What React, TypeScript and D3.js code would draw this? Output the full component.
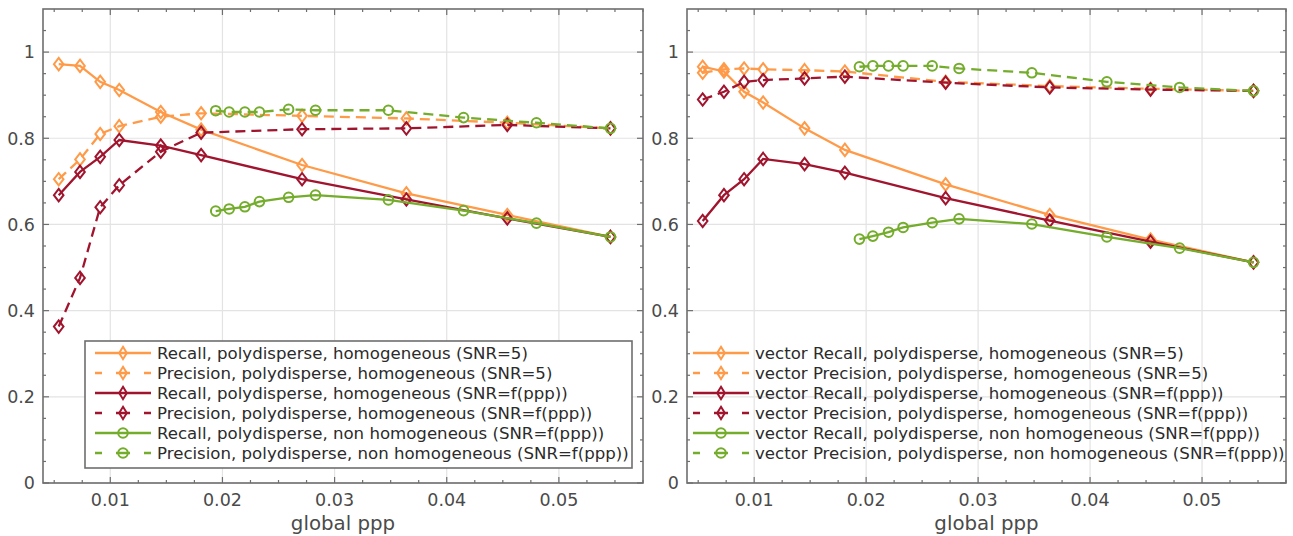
import React from "react";
import * as d3 from "d3";

// ---------- data ----------
const xHom = [0.0054, 0.0073, 0.0091, 0.0108, 0.0145, 0.0181, 0.0271, 0.0364, 0.0454, 0.0546];
const xNonHom = [0.0194, 0.0206, 0.022, 0.0233, 0.0259, 0.0283, 0.0348, 0.0415, 0.048, 0.0546];

// left panel
const recallSnr5L = [0.972, 0.968, 0.931, 0.912, 0.861, 0.82, 0.738, 0.672, 0.622, 0.571];
const precSnr5L = [0.705, 0.751, 0.81, 0.828, 0.85, 0.858, 0.852, 0.846, 0.836, 0.823];
const recallSnrFL = [0.668, 0.722, 0.757, 0.796, 0.783, 0.761, 0.705, 0.658, 0.614, 0.571];
const precSnrFL = [0.363, 0.476, 0.64, 0.691, 0.769, 0.813, 0.821, 0.823, 0.831, 0.823];
const recallNonHomL = [0.631, 0.636, 0.641, 0.653, 0.663, 0.668, 0.657, 0.632, 0.603, 0.571];
const precNonHomL = [0.864, 0.861, 0.861, 0.861, 0.867, 0.865, 0.865, 0.848, 0.836, 0.823];

// right panel
const recallSnr5R = [0.966, 0.955, 0.908, 0.883, 0.823, 0.773, 0.693, 0.622, 0.565, 0.512];
const precSnr5R = [0.952, 0.96, 0.962, 0.96, 0.958, 0.955, 0.931, 0.921, 0.915, 0.91];
const recallSnrFR = [0.608, 0.668, 0.705, 0.752, 0.74, 0.72, 0.661, 0.609, 0.56, 0.512];
const precSnrFR = [0.89, 0.908, 0.931, 0.935, 0.939, 0.943, 0.929, 0.918, 0.913, 0.91];
const recallNonHomR = [0.566, 0.573, 0.582, 0.593, 0.604, 0.613, 0.601, 0.571, 0.545, 0.512];
const precNonHomR = [0.966, 0.968, 0.968, 0.968, 0.968, 0.962, 0.952, 0.931, 0.918, 0.91];

const labelsLeft = [
  "Recall, polydisperse, homogeneous (SNR=5)",
  "Precision, polydisperse, homogeneous (SNR=5)",
  "Recall, polydisperse, homogeneous (SNR=f(ppp))",
  "Precision, polydisperse, homogeneous (SNR=f(ppp))",
  "Recall, polydisperse, non homogeneous (SNR=f(ppp))",
  "Precision, polydisperse, non homogeneous (SNR=f(ppp))",
];
const labelsRight = labelsLeft.map((l) => "vector " + l);

const xTicks = [0.01, 0.02, 0.03, 0.04, 0.05];
const xTickLabels = ["0.01", "0.02", "0.03", "0.04", "0.05"];
const yTicks = [0, 0.2, 0.4, 0.6, 0.8, 1];
const yTickLabels = ["0", "0.2", "0.4", "0.6", "0.8", "1"];
const xLabel = "global ppp";

// ---------- styling ----------
const ORANGE = "#FF9A48";
const RED = "#A0142E";
const GREEN = "#74AC2C";
const FONT = "DejaVu Sans";

type Series = { x: number[]; y: number[]; color: string; dashed: boolean; marker: "d" | "o" };

function makeSeries(r5: number[], p5: number[], rf: number[], pf: number[], rn: number[], pn: number[]): Series[] {
  return [
    { x: xHom, y: r5, color: ORANGE, dashed: false, marker: "d" },
    { x: xHom, y: p5, color: ORANGE, dashed: true, marker: "d" },
    { x: xHom, y: rf, color: RED, dashed: false, marker: "d" },
    { x: xHom, y: pf, color: RED, dashed: true, marker: "d" },
    { x: xNonHom, y: rn, color: GREEN, dashed: false, marker: "o" },
    { x: xNonHom, y: pn, color: GREEN, dashed: true, marker: "o" },
  ];
}

function Marker({ cx, cy, type, color, legend }: { cx: number; cy: number; type: "d" | "o"; color: string; legend?: boolean }) {
  if (type === "o") {
    return <circle cx={cx} cy={cy} r={4.8} fill="none" stroke={color} strokeWidth={2} />;
  }
  const w = legend ? 3.8 : 4.8;
  const h = 6.2;
  return (
    <path
      d={`M${cx},${cy - h}L${cx + w},${cy}L${cx},${cy + h}L${cx - w},${cy}Z`}
      fill="none"
      stroke={color}
      strokeWidth={2}
    />
  );
}

function Panel({ left, right, series, labels, boxedLegend, legendX }: {
  left: number; right: number; series: Series[]; labels: string[]; boxedLegend: boolean; legendX: number;
}) {
  const top = 9;
  const bottom = 483;
  const x = d3.scaleLinear().domain([0.004, 0.0575]).range([left, right]);
  const y = d3.scaleLinear().domain([0, 1.1]).range([bottom, top]);
  const line = d3.line<[number, number]>().x((d) => x(d[0])).y((d) => y(d[1]));
  const xMinor = d3.range(0.005, 0.0576, 0.0025).filter((v) => !xTicks.some((t) => Math.abs(t - v) < 1e-6));
  const yMinor = d3.range(0.05, 1.1, 0.05).filter((v) => !yTicks.some((t) => Math.abs(t - v) < 1e-6));
  const axisColor = "#6e6e6e";
  const rowY = (i: number) => 353 + i * 20;
  return (
    <g>
      {/* grid */}
      {xTicks.map((t) => (
        <line key={"gx" + t} x1={x(t)} x2={x(t)} y1={top} y2={bottom} stroke="#e3e3e3" strokeWidth={1.2} />
      ))}
      {yTicks.map((t) => (
        <line key={"gy" + t} x1={left} x2={right} y1={y(t)} y2={y(t)} stroke="#e3e3e3" strokeWidth={1.2} />
      ))}
      {/* series */}
      {series.map((s, i) => (
        <g key={"s" + i}>
          <path
            d={line(s.x.map((v, j) => [v, s.y[j]] as [number, number])) || ""}
            fill="none"
            stroke={s.color}
            strokeWidth={2.3}
            strokeDasharray={s.dashed ? "10,6" : undefined}
          />
          {s.x.map((v, j) => (
            <Marker key={j} cx={x(v)} cy={y(s.y[j])} type={s.marker} color={s.color} />
          ))}
        </g>
      ))}
      {/* ticks */}
      {xTicks.map((t) => (
        <g key={"tx" + t}>
          <line x1={x(t)} x2={x(t)} y1={bottom} y2={bottom - 6} stroke={axisColor} strokeWidth={1.2} />
          <line x1={x(t)} x2={x(t)} y1={top} y2={top + 6} stroke={axisColor} strokeWidth={1.2} />
        </g>
      ))}
      {xMinor.map((t) => (
        <g key={"mx" + t}>
          <line x1={x(t)} x2={x(t)} y1={bottom} y2={bottom - 3} stroke={axisColor} strokeWidth={1.2} />
          <line x1={x(t)} x2={x(t)} y1={top} y2={top + 3} stroke={axisColor} strokeWidth={1.2} />
        </g>
      ))}
      {yTicks.map((t) => (
        <g key={"ty" + t}>
          <line x1={left} x2={left + 6} y1={y(t)} y2={y(t)} stroke={axisColor} strokeWidth={1.2} />
          <line x1={right} x2={right - 6} y1={y(t)} y2={y(t)} stroke={axisColor} strokeWidth={1.2} />
        </g>
      ))}
      {yMinor.map((t) => (
        <g key={"my" + t}>
          <line x1={left} x2={left + 3} y1={y(t)} y2={y(t)} stroke={axisColor} strokeWidth={1.2} />
          <line x1={right} x2={right - 3} y1={y(t)} y2={y(t)} stroke={axisColor} strokeWidth={1.2} />
        </g>
      ))}
      {/* frame */}
      <rect x={left} y={top} width={right - left} height={bottom - top} fill="none" stroke={axisColor} strokeWidth={1.6} />
      {/* tick labels */}
      {xTicks.map((t, i) => (
        <text key={"lx" + t} x={x(t)} y={506} textAnchor="middle" fontFamily={FONT} fontSize={17.5} fill="#4a4a4a">
          {xTickLabels[i]}
        </text>
      ))}
      {yTicks.map((t, i) => (
        <text key={"ly" + t} x={left - 8} y={y(t)} dy="0.36em" textAnchor="end" fontFamily={FONT} fontSize={17.5} fill="#4a4a4a">
          {yTickLabels[i]}
        </text>
      ))}
      <text x={(left + right) / 2} y={530} textAnchor="middle" fontFamily={FONT} fontSize={19.8} fill="#4a4a4a">
        {xLabel}
      </text>
      {/* legend */}
      {boxedLegend && (
        <rect x={85} y={341} width={547} height={127} fill="#ffffff" stroke="#6e6e6e" strokeWidth={1.6} />
      )}
      {series.map((s, i) => (
        <g key={"lg" + i}>
          <line
            x1={legendX}
            x2={legendX + 56}
            y1={rowY(i)}
            y2={rowY(i)}
            stroke={s.color}
            strokeWidth={2.3}
            strokeDasharray={s.dashed ? "7 14 14 14 7" : undefined}
          />
          <Marker cx={legendX + 28} cy={rowY(i)} type={s.marker} color={s.color} legend />
          <text x={legendX + 62} y={rowY(i)} dy="0.36em" fontFamily={FONT} fontSize={16.6} fill="#2b2b2b">
            {labels[i]}
          </text>
        </g>
      ))}
    </g>
  );
}

export default function App() {
  const leftSeries = makeSeries(recallSnr5L, precSnr5L, recallSnrFL, precSnrFL, recallNonHomL, precNonHomL);
  const rightSeries = makeSeries(recallSnr5R, precSnr5R, recallSnrFR, precSnrFR, recallNonHomR, precNonHomR);
  return (
    <svg width={1293} height={536} style={{ position: "absolute", left: 0, top: 0, background: "#fff" }}>
      <rect x={0} y={0} width={1293} height={536} fill="#fff" />
      <Panel left={43} right={643} series={leftSeries} labels={labelsLeft} boxedLegend={true} legendX={95} />
      <Panel left={687} right={1286} series={rightSeries} labels={labelsRight} boxedLegend={false} legendX={693} />
    </svg>
  );
}
